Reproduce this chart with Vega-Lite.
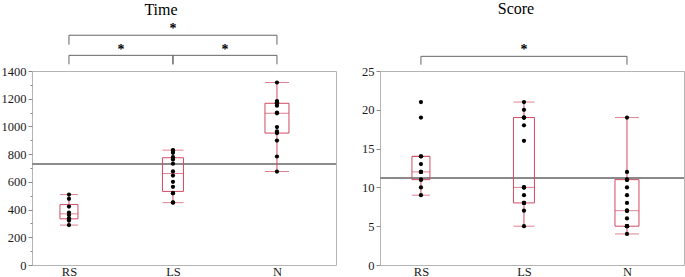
{
  "$schema": "https://vega.github.io/schema/vega-lite/v6.json",
  "padding": 0,
  "background": "white",
  "spacing": 24,
  "config": {
    "font": "Liberation Serif",
    "view": {"stroke": "#b4b4b4"},
    "axis": {"labelFont": "Liberation Serif", "labelFontSize": 12.5, "labelColor": "#1a1a1a", "domain": false, "grid": false, "tickColor": "#8a8a8a", "labelOverlap": false},
    "title": {"font": "Liberation Serif", "fontSize": 16, "fontWeight": "normal", "color": "#000000"}
  },
  "hconcat": [
    {
      "width": 304,
      "height": 194,
      "title": {"text": "Time", "frame": "group", "dx": -23},
      "data": {"values": [
        {"group": "RS", "value": 288}, {"group": "RS", "value": 321}, {"group": "RS", "value": 337}, {"group": "RS", "value": 360},
        {"group": "RS", "value": 378}, {"group": "RS", "value": 422}, {"group": "RS", "value": 478}, {"group": "RS", "value": 508},
        {"group": "LS", "value": 450}, {"group": "LS", "value": 452}, {"group": "LS", "value": 517}, {"group": "LS", "value": 520},
        {"group": "LS", "value": 564}, {"group": "LS", "value": 600}, {"group": "LS", "value": 645}, {"group": "LS", "value": 675},
        {"group": "LS", "value": 731}, {"group": "LS", "value": 762}, {"group": "LS", "value": 778}, {"group": "LS", "value": 810},
        {"group": "LS", "value": 826}, {"group": "LS", "value": 829},
        {"group": "N", "value": 674}, {"group": "N", "value": 783}, {"group": "N", "value": 898}, {"group": "N", "value": 952},
        {"group": "N", "value": 964}, {"group": "N", "value": 995}, {"group": "N", "value": 1095}, {"group": "N", "value": 1100},
        {"group": "N", "value": 1150}, {"group": "N", "value": 1167}, {"group": "N", "value": 1175}, {"group": "N", "value": 1183},
        {"group": "N", "value": 1317}
      ]},
      "layer": [
        {
          "mark": {"type": "rule", "color": "#8c8c8c", "strokeWidth": 1},
          "encoding": {"y": {"datum": 726, "type": "quantitative"}}
        },
        {
          "transform": [
            {"joinaggregate": [{"op": "q1", "field": "value", "as": "q1"}, {"op": "median", "field": "value", "as": "med"}, {"op": "q3", "field": "value", "as": "q3"}], "groupby": ["group"]},
            {"filter": "datum.value >= datum.q1 - 1.5*(datum.q3-datum.q1) && datum.value <= datum.q3 + 1.5*(datum.q3-datum.q1)"},
            {"aggregate": [{"op": "min", "field": "value", "as": "lo"}, {"op": "max", "field": "value", "as": "hi"}, {"op": "max", "field": "q1", "as": "q1"}, {"op": "max", "field": "med", "as": "med"}, {"op": "max", "field": "q3", "as": "q3"}], "groupby": ["group"]}
          ],
          "encoding": {
            "x": {"field": "group", "type": "nominal", "title": null,
              "scale": {"type": "point", "domain": ["RS", "RS-LS", "LS", "LS-N", "N"], "padding": 0.923, "align": 0.385},
              "axis": {"values": ["RS", "LS", "N"], "ticks": false, "labelPadding": 0, "labelAngle": 0}}
          },
          "layer": [
            {"mark": {"type": "rule", "color": "#d14b63"},
             "encoding": {"y": {"field": "lo", "type": "quantitative", "title": null,
               "scale": {"domain": [0, 1400], "nice": false},
               "axis": {"values": [0, 100, 200, 300, 400, 500, 600, 700, 800, 900, 1000, 1100, 1200, 1300, 1400],
                 "tickCount": 30,
                 "format": "d",
                 "labelOverlap": false,
                 "labelExpr": "datum.value % 200 === 0 ? datum.label : ''",
                 "tickSize": {"condition": {"test": "datum.value % 200 === 0", "value": 4}, "value": 2},
                 "labelPadding": 2}},
               "y2": {"field": "q1"}}},
            {"mark": {"type": "rule", "color": "#d14b63"},
             "encoding": {"y": {"field": "q3", "type": "quantitative", "title": null}, "y2": {"field": "hi"}}},
            {"mark": {"type": "bar", "fill": "white", "fillOpacity": 0, "stroke": "#d14b63", "strokeWidth": 1},
             "encoding": {"y": {"field": "q1", "type": "quantitative", "title": null}, "y2": {"field": "q3"},
               "size": {"field": "group", "type": "ordinal", "scale": {"domain": ["RS", "LS", "N"], "range": [18, 24, 34]}, "legend": null}}},
            {"mark": {"type": "tick", "color": "#d14b63", "thickness": 1},
             "encoding": {"y": {"field": "med", "type": "quantitative", "title": null},
               "size": {"field": "group", "type": "ordinal", "legend": null}}},
            {"mark": {"type": "tick", "color": "#d14b63", "thickness": 1},
             "encoding": {"y": {"field": "lo", "type": "quantitative", "title": null},
               "size": {"field": "group", "type": "ordinal", "legend": null}}},
            {"mark": {"type": "tick", "color": "#d14b63", "thickness": 1},
             "encoding": {"y": {"field": "hi", "type": "quantitative", "title": null},
               "size": {"field": "group", "type": "ordinal", "legend": null}}}
          ]
        },
        {
          "mark": {"type": "circle", "color": "#000000", "size": 18, "opacity": 1},
          "encoding": {
            "x": {"field": "group", "type": "nominal", "title": null},
            "y": {"field": "value", "type": "quantitative", "title": null}
          }
        },
        {
          "data": {"values": [{"from": "RS", "to": "N", "mid": "LS"}]},
          "layer": [
            {"mark": {"type": "rule", "color": "#666666"},
             "encoding": {"x": {"field": "from", "type": "nominal", "title": null}, "x2": {"field": "to"}, "y": {"datum": 1658, "type": "quantitative"}}},
            {"transform": [{"fold": ["from", "to"], "as": ["end", "cat"]}],
             "mark": {"type": "rule", "color": "#666666"},
             "encoding": {"x": {"field": "cat", "type": "nominal", "title": null}, "y": {"datum": 1658, "type": "quantitative"}, "y2": {"datum": 1590}}},
            {"mark": {"type": "text", "text": "*", "fontSize": 14, "fontWeight": "bold", "baseline": "alphabetic", "font": "Liberation Serif", "color": "#000000"},
             "encoding": {"x": {"field": "mid", "type": "nominal", "title": null}, "y": {"datum": 1673, "type": "quantitative"}}}
          ]
        },
        {
          "data": {"values": [{"from": "RS", "to": "LS", "mid": "RS-LS"}, {"from": "LS", "to": "N", "mid": "LS-N"}]},
          "layer": [
            {"mark": {"type": "rule", "color": "#666666"},
             "encoding": {"x": {"field": "from", "type": "nominal", "title": null}, "x2": {"field": "to"}, "y": {"datum": 1513, "type": "quantitative"}}},
            {"transform": [{"fold": ["from", "to"], "as": ["end", "cat"]}],
             "mark": {"type": "rule", "color": "#666666"},
             "encoding": {"x": {"field": "cat", "type": "nominal", "title": null}, "y": {"datum": 1513, "type": "quantitative"}, "y2": {"datum": 1448}}},
            {"mark": {"type": "text", "text": "*", "fontSize": 14, "fontWeight": "bold", "baseline": "alphabetic", "font": "Liberation Serif", "color": "#000000"},
             "encoding": {"x": {"field": "mid", "type": "nominal", "title": null}, "y": {"datum": 1526, "type": "quantitative"}}}
          ]
        }
      ]
    },
    {
      "width": 304,
      "height": 194,
      "title": {"text": "Score", "frame": "group", "dx": -16, "offset": 26},
      "data": {"values": [
        {"group": "RS", "value": 9}, {"group": "RS", "value": 10}, {"group": "RS", "value": 11}, {"group": "RS", "value": 11},
        {"group": "RS", "value": 12}, {"group": "RS", "value": 12}, {"group": "RS", "value": 12}, {"group": "RS", "value": 13},
        {"group": "RS", "value": 14}, {"group": "RS", "value": 14}, {"group": "RS", "value": 19}, {"group": "RS", "value": 21},
        {"group": "LS", "value": 5}, {"group": "LS", "value": 7}, {"group": "LS", "value": 8}, {"group": "LS", "value": 8},
        {"group": "LS", "value": 8}, {"group": "LS", "value": 9}, {"group": "LS", "value": 10}, {"group": "LS", "value": 10},
        {"group": "LS", "value": 10}, {"group": "LS", "value": 16}, {"group": "LS", "value": 18}, {"group": "LS", "value": 19},
        {"group": "LS", "value": 19}, {"group": "LS", "value": 19}, {"group": "LS", "value": 20}, {"group": "LS", "value": 21},
        {"group": "N", "value": 4}, {"group": "N", "value": 5}, {"group": "N", "value": 5}, {"group": "N", "value": 5},
        {"group": "N", "value": 5}, {"group": "N", "value": 6}, {"group": "N", "value": 7}, {"group": "N", "value": 7},
        {"group": "N", "value": 7}, {"group": "N", "value": 8}, {"group": "N", "value": 9}, {"group": "N", "value": 10},
        {"group": "N", "value": 11}, {"group": "N", "value": 11}, {"group": "N", "value": 11}, {"group": "N", "value": 12},
        {"group": "N", "value": 19}
      ]},
      "layer": [
        {
          "mark": {"type": "rule", "color": "#8c8c8c", "strokeWidth": 1},
          "encoding": {"y": {"datum": 11.26, "type": "quantitative"}}
        },
        {
          "transform": [
            {"joinaggregate": [{"op": "q1", "field": "value", "as": "q1"}, {"op": "median", "field": "value", "as": "med"}, {"op": "q3", "field": "value", "as": "q3"}], "groupby": ["group"]},
            {"filter": "datum.value >= datum.q1 - 1.5*(datum.q3-datum.q1) && datum.value <= datum.q3 + 1.5*(datum.q3-datum.q1)"},
            {"aggregate": [{"op": "min", "field": "value", "as": "lo"}, {"op": "max", "field": "value", "as": "hi"}, {"op": "max", "field": "q1", "as": "q1"}, {"op": "max", "field": "med", "as": "med"}, {"op": "max", "field": "q3", "as": "q3"}], "groupby": ["group"]}
          ],
          "encoding": {
            "x": {"field": "group", "type": "nominal", "title": null,
              "scale": {"type": "point", "domain": ["RS", "RS-LS", "LS", "LS-N", "N"], "padding": 0.951, "align": 0.418},
              "axis": {"values": ["RS", "LS", "N"], "ticks": false, "labelPadding": 0, "labelAngle": 0}}
          },
          "layer": [
            {"mark": {"type": "rule", "color": "#d14b63"},
             "encoding": {"y": {"field": "lo", "type": "quantitative", "title": null,
               "scale": {"domain": [0, 25], "nice": false},
               "axis": {"values": [0, 5, 10, 15, 20, 25], "tickCount": 30, "labelOverlap": false, "tickSize": 4, "labelPadding": 2}},
               "y2": {"field": "q1"}}},
            {"mark": {"type": "rule", "color": "#d14b63"},
             "encoding": {"y": {"field": "q3", "type": "quantitative", "title": null}, "y2": {"field": "hi"}}},
            {"mark": {"type": "bar", "fill": "white", "fillOpacity": 0, "stroke": "#d14b63", "strokeWidth": 1},
             "encoding": {"y": {"field": "q1", "type": "quantitative", "title": null}, "y2": {"field": "q3"},
               "size": {"field": "group", "type": "ordinal", "scale": {"domain": ["RS", "LS", "N"], "range": [15, 32, 34]}, "legend": null}}},
            {"mark": {"type": "tick", "color": "#d14b63", "thickness": 1},
             "encoding": {"y": {"field": "med", "type": "quantitative", "title": null},
               "size": {"field": "group", "type": "ordinal", "legend": null}}},
            {"mark": {"type": "tick", "color": "#d14b63", "thickness": 1},
             "encoding": {"y": {"field": "lo", "type": "quantitative", "title": null},
               "size": {"field": "group", "type": "ordinal", "legend": null}}},
            {"mark": {"type": "tick", "color": "#d14b63", "thickness": 1},
             "encoding": {"y": {"field": "hi", "type": "quantitative", "title": null},
               "size": {"field": "group", "type": "ordinal", "legend": null}}}
          ]
        },
        {
          "mark": {"type": "circle", "color": "#000000", "size": 18, "opacity": 1},
          "encoding": {
            "x": {"field": "group", "type": "nominal", "title": null},
            "y": {"field": "value", "type": "quantitative", "title": null}
          }
        },
        {
          "data": {"values": [{"from": "RS", "to": "N", "mid": "LS"}]},
          "layer": [
            {"mark": {"type": "rule", "color": "#666666"},
             "encoding": {"x": {"field": "from", "type": "nominal", "title": null}, "x2": {"field": "to"}, "y": {"datum": 26.89, "type": "quantitative"}}},
            {"transform": [{"fold": ["from", "to"], "as": ["end", "cat"]}],
             "mark": {"type": "rule", "color": "#666666"},
             "encoding": {"x": {"field": "cat", "type": "nominal", "title": null}, "y": {"datum": 26.89, "type": "quantitative"}, "y2": {"datum": 25.81}}},
            {"mark": {"type": "text", "text": "*", "fontSize": 14, "fontWeight": "bold", "baseline": "alphabetic", "font": "Liberation Serif", "color": "#000000"},
             "encoding": {"x": {"field": "mid", "type": "nominal", "title": null}, "y": {"datum": 27.13, "type": "quantitative"}}}
          ]
        }
      ]
    }
  ]
}
